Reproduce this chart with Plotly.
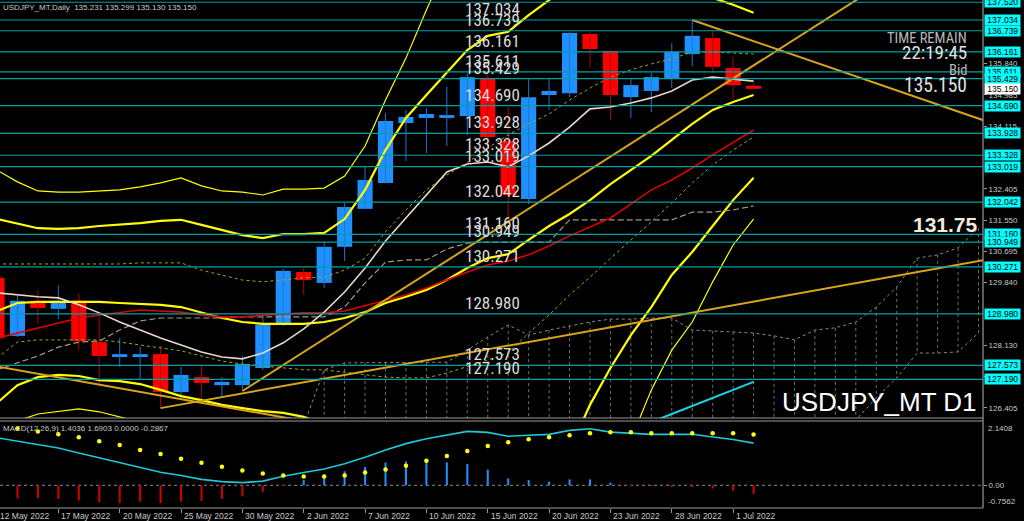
import plotly.graph_objects as go

# ------------------------------------------------------------------ data
bar_idx = list(range(38))          # 12 May 2022 ... 4 Jul 2022 (daily bars)
date_tick_idx = [0, 3, 6, 9, 12, 15, 18, 21, 24, 27, 30, 33, 36]
date_tick_text = ["12 May 2022", "17 May 2022", "20 May 2022", "25 May 2022", "30 May 2022",
                  "2 Jun 2022", "7 Jun 2022", "10 Jun 2022", "15 Jun 2022", "20 Jun 2022",
                  "23 Jun 2022", "28 Jun 2022", "1 Jul 2022"]

opens = [129.97, 128.38, 129.34, 129.12, 129.34, 128.21, 127.80, 127.80, 127.88, 126.84,
         127.25, 127.03, 127.03, 127.50, 128.73, 130.13, 129.83, 130.82, 131.86, 132.57,
         134.21, 134.35, 134.35, 134.40, 135.42, 133.72, 132.13, 134.98, 135.03, 136.65,
         136.19, 134.92, 135.09, 135.42, 136.10, 136.54, 135.72, 135.231]
highs = [130.05, 129.48, 129.64, 129.77, 129.55, 129.01, 128.32, 128.08, 128.10, 127.53,
         127.58, 127.25, 127.83, 128.90, 130.21, 130.24, 130.98, 132.02, 133.03, 134.49,
         134.57, 134.62, 135.20, 135.58, 135.53, 134.65, 135.44, 135.42, 136.71, 136.71,
         136.20, 135.42, 135.58, 136.40, 137.03, 136.73, 136.02, 135.299]
lows = [127.52, 128.35, 128.71, 128.84, 127.99, 127.03, 127.53, 127.17, 126.40, 126.68,
        126.62, 126.71, 126.87, 127.45, 128.65, 129.50, 129.69, 130.43, 131.85, 132.55,
        133.17, 133.39, 133.58, 133.88, 133.56, 131.47, 131.99, 134.57, 134.92, 135.72,
        134.30, 134.35, 134.51, 135.17, 135.77, 135.58, 134.84, 135.130]
closes = [128.32, 129.34, 129.14, 129.34, 128.24, 127.83, 127.88, 127.88, 126.84, 127.31,
          127.09, 127.12, 127.61, 128.68, 130.16, 129.91, 130.82, 131.91, 132.65, 134.27,
          134.38, 134.46, 134.43, 135.47, 133.83, 132.24, 134.92, 135.09, 136.68, 136.24,
          134.98, 135.25, 135.47, 136.16, 136.60, 135.75, 135.25, 135.150]

bb_up3 = [132.92, 132.60, 132.35, 132.32, 132.32, 132.35, 132.38, 132.46, 132.57, 132.71,
          132.49, 132.35, 132.32, 132.24, 132.40, 132.40, 132.43, 132.76, 133.58, 134.84,
          135.99, 137.31, 138.54, 138.95, 139.50, 139.77, 139.91, 140.05, 140.18, 140.18,
          140.05, 139.91, 139.77, 139.50, 139.22, 139.09, 138.81, 138.35]
bb_up2 = [131.58, 131.45, 131.33, 131.31, 131.33, 131.39, 131.42, 131.47, 131.53, 131.56,
          131.42, 131.28, 131.14, 131.06, 131.17, 131.17, 131.20, 131.58, 132.38, 133.47,
          134.35, 134.98, 135.61, 136.21, 136.60, 136.71, 137.17, 137.58, 137.99, 138.27,
          138.35, 138.27, 138.13, 137.99, 137.80, 137.64, 137.45, 137.23]
bb_up1 = [130.35, 130.35, 130.35, 130.35, 130.35, 130.35, 130.35, 130.38, 130.38, 130.38,
          130.18, 130.05, 129.91, 129.86, 129.91, 129.97, 129.99, 130.18, 130.51, 131.23,
          131.83, 132.38, 132.79, 133.12, 133.53, 133.88, 134.19, 134.46, 134.84, 135.17,
          135.47, 135.67, 135.83, 135.97, 136.16, 136.16, 136.13, 136.10]
bb_mid = [129.06, 129.28, 129.31, 129.31, 129.31, 129.31, 129.28, 129.25, 129.23, 129.17,
          129.01, 128.87, 128.76, 128.71, 128.71, 128.71, 128.76, 128.87, 129.03, 129.28,
          129.45, 129.64, 129.91, 130.24, 130.51, 130.62, 131.01, 131.39, 131.72, 132.10,
          132.54, 132.92, 133.31, 133.75, 134.19, 134.57, 134.79, 134.98]
bb_lo1 = [127.77, 128.21, 128.27, 128.27, 128.27, 128.27, 128.21, 128.13, 128.07, 127.97,
          127.83, 127.69, 127.61, 127.55, 127.50, 127.45, 127.45, 127.39, 127.31, 127.25,
          127.23, 127.23, 127.36, 127.53, 127.72, 127.91, 128.46, 128.95, 129.50, 129.99,
          130.51, 131.01, 131.50, 132.02, 132.57, 133.06, 133.47, 133.83]
bb_lo2 = [126.54, 127.03, 127.25, 127.31, 127.28, 127.17, 127.14, 127.06, 126.90, 126.73,
          126.62, 126.49, 126.40, 126.32, 126.27, 126.16, 125.94, 125.53, 124.70, 123.88,
          123.06, 122.52, 122.24, 122.24, 122.38, 122.65, 123.34, 124.16, 125.25, 126.49,
          127.50, 128.40, 129.17, 130.05, 130.68, 131.39, 132.10, 132.71]
bb_lo3 = [125.66, 126.05, 126.24, 126.32, 126.38, 126.30, 126.16, 126.02, 125.53, 125.25,
          124.98, 124.70, 124.44, 124.16, 123.88, 123.61, 123.06, 122.24, 121.14, 120.05,
          119.23, 118.68, 118.41, 118.41, 118.68, 118.95, 119.77, 121.14, 122.24, 123.34,
          124.44, 125.53, 126.90, 127.99, 128.76, 129.86, 130.87, 131.58]

ma_fast = [129.56, 129.50, 129.45, 129.42, 129.23, 129.01, 128.76, 128.54, 128.32, 128.13,
           127.94, 127.80, 127.75, 127.91, 128.19, 128.57, 129.03, 129.58, 130.24, 130.98,
           131.61, 132.24, 132.87, 133.09, 133.145, 133.01, 133.31, 133.665, 134.10, 134.60,
           134.65, 134.76, 134.90, 135.09, 135.39, 135.47, 135.42, 135.36]
ma_red = [128.32, 128.46, 128.60, 128.73, 128.87, 128.95, 129.03, 129.09, 129.06, 129.03,
          128.95, 128.90, 128.90, 128.95, 128.98, 129.01, 129.01, 129.06, 129.20, 129.34,
          129.50, 129.69, 129.91, 130.13, 130.32, 130.43, 130.60, 130.84, 131.12, 131.36,
          131.61, 131.99, 132.38, 132.65, 132.98, 133.34, 133.69, 134.02]
kijun = [127.45, 127.64, 127.83, 128.07, 128.21, 128.24, 128.54, 128.79, 128.87, 128.87,
         128.87, 128.87, 128.90, 128.90, 128.90, 128.90, 128.90, 129.17, 129.83, 130.40,
         130.46, 130.46, 130.76, 130.92, 130.95, 130.95, 130.95, 130.95, 131.56, 131.56,
         131.56, 131.56, 131.56, 131.56, 131.77, 131.77, 131.83, 131.94]

cyan_idx = [31, 32, 33, 34, 35, 36, 37]
cyan_vals = [125.45, 126.02, 126.24, 126.46, 126.68, 126.90, 127.12]

cloud_idx = list(range(15, 49))
span_a = [125.94, 127.45, 127.64, 127.64, 127.66, 127.66, 127.66, 127.66, 127.99, 128.35,
          128.68, 128.40, 128.54, 128.65, 128.76, 128.84, 128.84, 128.87, 128.87, 128.54,
          128.52, 128.49, 128.46, 128.38, 128.27, 128.54, 128.60, 128.76, 129.17, 129.72,
          130.51, 130.60, 130.79, 131.33]
span_b = [125.80, 125.80, 125.80, 125.80, 125.80, 125.80, 125.80, 125.80, 125.80, 125.80,
          125.80, 125.80, 125.80, 125.80, 125.80, 125.80, 125.80, 125.80, 125.80, 125.80,
          125.80, 125.80, 125.80, 125.80, 125.80, 125.80, 125.80, 126.08, 126.68, 127.23,
          127.91, 127.91, 127.94, 128.46]

levels = [137.520, 137.034, 136.739, 136.161, 135.611, 135.429, 134.690, 133.928, 133.328,
          133.019, 132.042, 131.160, 130.949, 130.271, 128.980, 127.573, 127.190]
axis_ticks = [135.840, 134.985, 134.115, 132.405, 131.550, 130.695, 129.840, 128.130,
              127.275, 126.405]
bid_price = 135.150

tl_a_idx, tl_a_px = [0, 15], [127.54, 126.05]
tl_b_idx, tl_b_px = [8, 49], [126.40, 130.53]
tl_c_idx, tl_c_px = [12, 43], [126.87, 137.93]
tl_d_idx, tl_d_px = [34, 49], [137.034, 134.14]

macd_line = [1.583, 1.469, 1.355, 1.240, 1.077, 0.914, 0.741, 0.588, 0.434, 0.326,
             0.196, 0.121, 0.088, 0.140, 0.304, 0.424, 0.545, 0.718, 0.930, 1.175,
             1.387, 1.550, 1.665, 1.795, 1.763, 1.632, 1.665, 1.697, 1.828, 1.883,
             1.772, 1.740, 1.697, 1.697, 1.697, 1.609, 1.524, 1.4036]
macd_signal = [1.958, 1.893, 1.795, 1.697, 1.599, 1.469, 1.338, 1.175, 1.044, 0.881,
               0.751, 0.620, 0.490, 0.392, 0.326, 0.294, 0.294, 0.326, 0.424, 0.522,
               0.653, 0.816, 0.979, 1.142, 1.306, 1.436, 1.534, 1.599, 1.665, 1.730,
               1.763, 1.763, 1.730, 1.730, 1.730, 1.730, 1.730, 1.6903]
macd_hist = [-0.40, -0.434, -0.434, -0.457, -0.511, -0.566, -0.588, -0.544, -0.588, -0.544,
             -0.522, -0.457, -0.370, -0.218, -0.02, 0.174, 0.348, 0.468, 0.609, 0.761,
             0.794, 0.848, 0.761, 0.707, 0.522, 0.228, 0.174, 0.12, 0.196, 0.196,
             0.087, -0.01, -0.022, -0.03, -0.044, -0.109, -0.185, -0.2867]
macd_top, macd_bottom = 2.1408, -0.7562

# ------------------------------------------------------------------ styles
BG = "#000000"
TXT = "#c8c8c8"
F_SMALL = "Liberation Sans, Arial, sans-serif"
F_NARROW = "Liberation Sans Narrow, Arial Narrow, Roboto Condensed, Liberation Sans, sans-serif"
LEVEL_C = "#00a0a0"
YEL = "#ffff00"
OLIVE = "#a8a800"
GOLD = "#d8a419"
BLUE = "#1e90ff"
RED = "#ff0000"
X_RANGE = [0.1467, 48.22]
PX_PER_BAR = 983 / (X_RANGE[1] - X_RANGE[0])

fig = go.Figure()

# Ichimoku-like cloud (dotted, hatched)
hx, hy = [], []
for k, i in enumerate(cloud_idx):
    if i >= 16:
        hx += [i, i, None]
        hy += [span_a[k], span_b[k], None]
fig.add_trace(go.Scatter(x=hx, y=hy, mode="lines", line=dict(color="#6e6e6e", width=1, dash="dot"),
                         hoverinfo="skip"))
fig.add_trace(go.Scatter(x=cloud_idx, y=span_a, mode="lines",
                         line=dict(color="#8a8a8a", width=1, dash="dot"), hoverinfo="skip"))
fig.add_trace(go.Scatter(x=cloud_idx, y=span_b, mode="lines",
                         line=dict(color="#8a8a8a", width=1, dash="dot"), hoverinfo="skip"))

# candles: wicks + bodies
for up_flag, wc in ((True, "#1f74cc"), (False, "#b00000")):
    wx, wy = [], []
    for i in bar_idx:
        if (closes[i] >= opens[i]) == up_flag:
            wx += [i, i, None]
            wy += [lows[i], highs[i], None]
    fig.add_trace(go.Scatter(x=wx, y=wy, mode="lines", line=dict(color=wc, width=1), hoverinfo="skip"))

body_base = [min(o, c) for o, c in zip(opens, closes)]
body_h = [max(abs(c - o), 0.03) for o, c in zip(opens, closes)]
body_col = [BLUE if c >= o else RED for o, c in zip(opens, closes)]
fig.add_trace(go.Bar(x=bar_idx, y=body_h, base=body_base, width=0.74,
                     marker=dict(color=body_col, line=dict(width=0)), hoverinfo="skip"))

# Bollinger-style bands
fig.add_trace(go.Scatter(x=bar_idx, y=bb_up3, mode="lines", line=dict(color=YEL, width=1.2)))
fig.add_trace(go.Scatter(x=bar_idx, y=bb_lo3, mode="lines", line=dict(color=YEL, width=1.2)))
fig.add_trace(go.Scatter(x=bar_idx, y=bb_up1, mode="lines", line=dict(color=OLIVE, width=1, dash="dot")))
fig.add_trace(go.Scatter(x=bar_idx, y=bb_lo1, mode="lines", line=dict(color=OLIVE, width=1, dash="dot")))
fig.add_trace(go.Scatter(x=bar_idx, y=bb_up2, mode="lines", line=dict(color=YEL, width=2.2)))
fig.add_trace(go.Scatter(x=bar_idx, y=bb_lo2, mode="lines", line=dict(color=YEL, width=2.2)))
fig.add_trace(go.Scatter(x=bar_idx, y=bb_mid, mode="lines", line=dict(color=YEL, width=2.2)))

# moving averages
fig.add_trace(go.Scatter(x=bar_idx, y=kijun, mode="lines",
                         line=dict(color="#a89684", width=1.2, dash="6px,3px")))
fig.add_trace(go.Scatter(x=bar_idx, y=ma_red, mode="lines", line=dict(color="#e00000", width=1.6)))
fig.add_trace(go.Scatter(x=bar_idx, y=ma_fast, mode="lines", line=dict(color="#e8d6c6", width=1.6)))
fig.add_trace(go.Scatter(x=cyan_idx, y=cyan_vals, mode="lines", line=dict(color="#19d3e0", width=2)))

# trend lines
for tx, ty in ((tl_a_idx, tl_a_px), (tl_b_idx, tl_b_px), (tl_c_idx, tl_c_px), (tl_d_idx, tl_d_px)):
    fig.add_trace(go.Scatter(x=tx, y=ty, mode="lines", line=dict(color=GOLD, width=2)))

# MACD panel
fig.add_trace(go.Bar(x=bar_idx, y=macd_hist, width=0.1, yaxis="y2",
                     marker=dict(color=[BLUE if v >= 0 else "#d00000" for v in macd_hist],
                                 line=dict(width=0)), hoverinfo="skip"))
fig.add_trace(go.Scatter(x=bar_idx, y=macd_line, yaxis="y2", mode="lines",
                         line=dict(color="#1ec8d4", width=1.6)))
fig.add_trace(go.Scatter(x=bar_idx, y=macd_signal, yaxis="y2", mode="markers",
                         marker=dict(color=YEL, size=4.5)))

# ------------------------------------------------------------------ shapes
shapes = []
for lv in levels:
    shapes.append(dict(type="line", xref="paper", x0=0, x1=1, yref="y", y0=lv, y1=lv,
                       line=dict(color=LEVEL_C, width=1.2), layer="above"))
shapes.append(dict(type="line", xref="paper", x0=0, x1=1, yref="y2", y0=0, y1=0,
                   line=dict(color="#8c8c8c", width=1, dash="dot"), layer="below"))
BORDER = "#9a9a9a"
shapes.append(dict(type="line", xref="paper", x0=1, x1=1, yref="paper", y0=0, y1=1,
                   line=dict(color=BORDER, width=1.2)))
shapes.append(dict(type="line", xref="paper", x0=0, x1=1, yref="y domain", y0=0, y1=0,
                   line=dict(color=BORDER, width=1.2)))
shapes.append(dict(type="line", xref="paper", x0=0, x1=1, yref="y2 domain", y0=1, y1=1,
                   line=dict(color=BORDER, width=1.2)))
shapes.append(dict(type="line", xref="paper", x0=0, x1=1, yref="y2 domain", y0=0, y1=0,
                   line=dict(color=BORDER, width=1.2)))

# ------------------------------------------------------------------ annotations
ann = []
ann.append(dict(text="USDJPY_MT,Daily  135.231 135.299 135.130 135.150", xref="paper", yref="paper",
                x=0, y=1, xanchor="left", yanchor="top", xshift=1, yshift=-1, showarrow=False,
                font=dict(family=F_SMALL, size=8, color=TXT)))
ann.append(dict(text="MACD(12,26,9) 1.4036 1.6903 0.0000 -0.2867", xref="paper", yref="y2 domain",
                x=0, y=1, xanchor="left", yanchor="top", xshift=1, yshift=-1, showarrow=False,
                font=dict(family=F_SMALL, size=8, color=TXT)))
for lv in levels[1:]:
    ann.append(dict(text=f"{lv:.3f}", xref="paper", yref="y", x=463 / 983, y=lv,
                    xanchor="left", yanchor="bottom", yshift=-1, showarrow=False,
                    font=dict(family=F_NARROW, size=17, color="#dcdcdc")))
for lv in levels:
    ann.append(dict(text=f"\u00a0{lv:.3f}\u00a0", xref="paper", yref="y", x=1, y=lv,
                    xanchor="left", yanchor="middle", xshift=1, showarrow=False,
                    bgcolor="#00ffff", borderpad=0,
                    font=dict(family=F_SMALL, size=8.5, color="#000000")))
ann.append(dict(text=f"\u00a0{bid_price:.3f}\u00a0", xref="paper", yref="y", x=1, y=bid_price,
                xanchor="left", yanchor="middle", xshift=1, showarrow=False,
                bgcolor="#ffffff", borderpad=0, font=dict(family=F_SMALL, size=8.5, color="#000000")))
ann.append(dict(text=f"{macd_top:.4f}", xref="paper", yref="y2", x=1, y=macd_top, xanchor="left",
                yanchor="top", xshift=3, yshift=-1, showarrow=False,
                font=dict(family=F_SMALL, size=8, color=TXT)))
ann.append(dict(text=f"{macd_bottom:.4f}", xref="paper", yref="y2", x=1, y=macd_bottom,
                xanchor="left", yanchor="bottom", xshift=3, yshift=0, showarrow=False,
                font=dict(family=F_SMALL, size=8, color=TXT)))

rx = 969 / 983
for txt, yc, sz, col in (("TIME REMAIN", 39, 14.5, "#b8b8b8"), ("22:19:45", 52, 19, "#e0e0e0"),
                         ("Bid", 71, 14.5, "#b8b8b8"), (f"{bid_price:.3f}", 85, 19.5, "#e0e0e0")):
    ann.append(dict(text=txt, xref="paper", yref="paper", x=rx, y=1 - yc / 508, xanchor="right",
                    yanchor="middle", showarrow=False, font=dict(family=F_NARROW, size=sz, color=col)))
ann.append(dict(text="<b>131.75</b>", xref="paper", yref="paper", x=980 / 983, y=1 - 224 / 508,
                xanchor="right", yanchor="middle", showarrow=False,
                font=dict(family=F_SMALL, size=21, color="#f3e9dc")))
ann.append(dict(text="USDJPY_MT D1", xref="paper", yref="paper", x=979 / 983, y=1 - 402 / 508,
                xanchor="right", yanchor="middle", showarrow=False,
                font=dict(family=F_SMALL, size=26, color="#ffffff")))
for i, t in zip(date_tick_idx, date_tick_text):
    xa = max(i, X_RANGE[0])                      # keep anchor inside the axis range
    ann.append(dict(text=t, xref="x", yref="paper", x=xa, y=0, xanchor="left", yanchor="top",
                    xshift=1 + (i - xa) * PX_PER_BAR, yshift=-1, showarrow=False,
                    font=dict(family=F_SMALL, size=8.5, color=TXT)))

fig.update_layout(
    width=1024, height=521,
    margin=dict(l=0, r=41, t=0, b=13),
    paper_bgcolor=BG, plot_bgcolor=BG,
    showlegend=False, barmode="overlay",
    shapes=shapes, annotations=ann,
    xaxis=dict(domain=[0, 1], range=X_RANGE, anchor="y2", showgrid=False, zeroline=False,
               tickmode="array", tickvals=date_tick_idx, ticks="outside", ticklen=4,
               tickcolor="#9a9a9a", showticklabels=False, showline=False, fixedrange=True),
    yaxis=dict(domain=[1 - 418 / 508, 1], range=[126.130, 137.582], side="right", anchor="x",
               showgrid=False, zeroline=False, showline=False, tickmode="array",
               tickvals=axis_ticks, ticktext=[f"{v:.3f}" for v in axis_ticks],
               ticks="outside", ticklen=3, tickcolor="#9a9a9a",
               tickfont=dict(family=F_SMALL, size=8, color=TXT), fixedrange=True),
    yaxis2=dict(domain=[0, 1 - 421 / 508], range=[macd_bottom, macd_top], side="right", anchor="x",
                showgrid=False, zeroline=False, showline=False, tickmode="array",
                tickvals=[0], ticktext=["0.00"], ticks="outside", ticklen=3, tickcolor="#9a9a9a",
                tickfont=dict(family=F_SMALL, size=8, color=TXT), fixedrange=True),
)

fig.write_html(
    "out.html",
    config={"displayModeBar": False},
    post_script="document.body.style.margin='0';document.body.style.padding='0';"
                "document.body.style.background='#000';",
)
